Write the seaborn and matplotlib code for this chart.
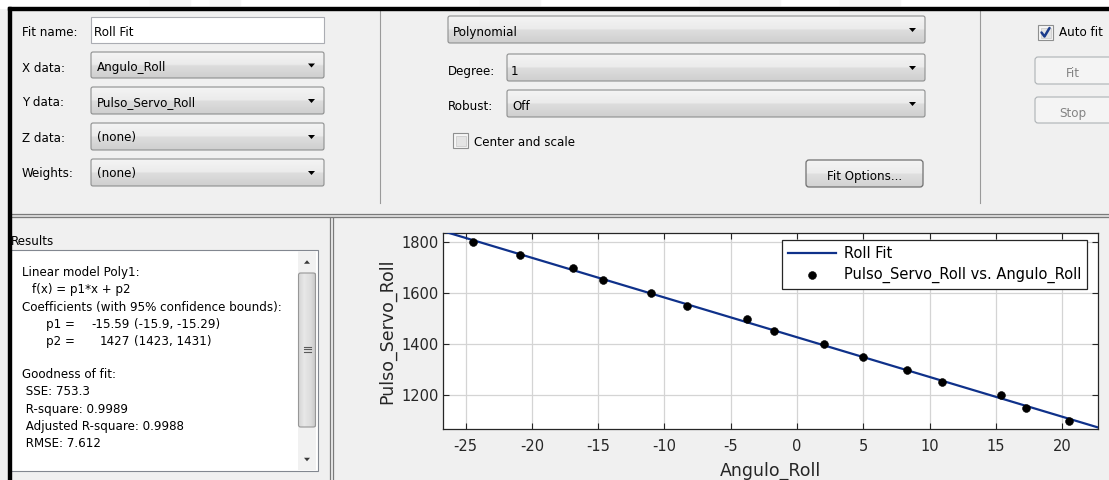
import numpy as np
import pandas as pd
import matplotlib
matplotlib.use("Agg")
import matplotlib.pyplot as plt
from matplotlib.patches import Rectangle, FancyBboxPatch, Polygon
from matplotlib.colors import LinearSegmentedColormap
import seaborn as sns

# ---- data -------------------------------------------------------------
angulo_roll = [-24.4, -20.9, -16.9, -14.6, -11.0, -8.3, -3.8, -1.7,
               2.0, 5.0, 8.3, 10.9, 15.4, 17.3, 20.5]
pulso_servo_roll = [1800, 1750, 1700, 1650, 1600, 1550, 1500, 1450,
                    1400, 1350, 1300, 1250, 1200, 1150, 1100]

# fitted poly1 coefficients (as reported in the results box)
p1 = -15.59
p2 = 1427

x_limits = (-26.7, 22.7)
y_limits = (1067, 1836)
x_ticks = [-25, -20, -15, -10, -5, 0, 5, 10, 15, 20]
y_ticks = [1200, 1400, 1600, 1800]

results_lines = [
    ("Linear model Poly1:", 22),
    ("f(x) = p1*x + p2", 32),
    ("Coefficients (with 95% confidence bounds):", 22),
]
goodness_lines = ["Goodness of fit:", " SSE: 753.3", " R-square: 0.9989",
                  " Adjusted R-square: 0.9988", " RMSE: 7.612"]

# ---- figure -------------------------------------------------------------
W, H = 1109, 480
fig = plt.figure(figsize=(W / 100, H / 100), dpi=100)
plt.rcParams["font.family"] = ["DejaVu Sans"]

UI = 8.6  # UI font size (pt)

bg = fig.add_axes([0, 0, 1, 1], zorder=0)
bg.axis("off")

PANEL = "#f0f0f0"
bg.add_patch(Rectangle((0, 0), W, H, color=PANEL, zorder=0))
bg.add_patch(Rectangle((0, 0), W, 7.5, color="white", zorder=0.5))
# faint header shapes above the window frame
for (hx, hw) in [(150, 40), (210, 30), (480, 60), (700, 80), (840, 60)]:
    bg.add_patch(Rectangle((hx, 0), hw, 5, color="#f6f6f6", zorder=0.6))

# window frame
bg.add_patch(Rectangle((7.5, 7), W, 2.6, color="black", zorder=5))
bg.add_patch(Rectangle((7.8, 7), 2.8, H, color="black", zorder=5))

# separators in the top panel
bg.plot([379.5, 379.5], [11, 203], color="#9a9a9a", lw=0.8, zorder=1)
bg.plot([979.5, 979.5], [11, 203], color="#9a9a9a", lw=0.8, zorder=1)
# splitter between top and bottom
for yy, c in [(214.2, "#7a7a7a"), (217.3, "#7a7a7a")]:
    bg.plot([10, W], [yy, yy], color=c, lw=0.9, zorder=1)
bg.add_patch(Rectangle((10, 214.5), W, 2.5, color="#e2e2e2", zorder=0.9))
# splitter between results and plot
for xx in [330.3, 333.3]:
    bg.plot([xx, xx], [217.5, H], color="#7a7a7a", lw=0.9, zorder=1)

combo_cmap = LinearSegmentedColormap.from_list(
    "combo", [(0, "#f4f4f4"), (0.48, "#ebebeb"), (0.52, "#dddddd"), (1, "#cfcfcf")])
button_cmap = LinearSegmentedColormap.from_list(
    "button", [(0, "#f4f4f4"), (0.48, "#ececec"), (0.52, "#dfdfdf"), (1, "#d2d2d2")])
thumb_cmap = LinearSegmentedColormap.from_list(
    "thumb", [(0, "#d6d6d6"), (0.3, "#e8e8e8"), (0.7, "#dcdcdc"), (1, "#c6c6c6")])
grad = np.linspace(0, 1, 64).reshape(-1, 1)


def gradient_box(x0, y0, x1, y1, cmap, ec, lw=0.8, r=2, z=2, horizontal=False):
    g = grad.T if horizontal else grad
    bg.imshow(g, cmap=cmap, extent=(x0, x1, y1, y0), aspect="auto",
              origin="upper", interpolation="bilinear", zorder=z)
    bg.add_patch(FancyBboxPatch((x0, y0), x1 - x0, y1 - y0,
                                boxstyle=f"round,pad=0,rounding_size={r}",
                                fill=False, ec=ec, lw=lw, zorder=z + 0.5))


def arrow_down(cx, cy, w=7, h=4, color="black", z=4):
    bg.add_patch(Polygon([(cx - w / 2, cy - h / 2), (cx + w / 2, cy - h / 2),
                          (cx, cy + h / 2)], closed=True, color=color, lw=0, zorder=z))


def arrow_up(cx, cy, w=7, h=4, color="black", z=4):
    bg.add_patch(Polygon([(cx - w / 2, cy + h / 2), (cx + w / 2, cy + h / 2),
                          (cx, cy - h / 2)], closed=True, color=color, lw=0, zorder=z))


def combo(x0, y0, x1, y1, text, tx, base):
    gradient_box(x0, y0, x1, y1, combo_cmap, "#8e8f8f")
    arrow_down(x1 - 12.5, (y0 + y1) / 2 + 0.5)
    bg.text(tx, base, text, fontsize=UI, va="baseline", ha="left", zorder=4)


def label(x, base, text, **kw):
    kw.setdefault("fontsize", UI)
    kw.setdefault("color", "black")
    bg.text(x, base, text, va="baseline", ha=kw.pop("ha", "left"), zorder=4, **kw)


def checkbox(x0, y0, size, checked=False):
    bg.add_patch(Rectangle((x0, y0), size, size, fc="#f6f6f6", ec="#8e8f8f", lw=0.8, zorder=3))
    bg.add_patch(Rectangle((x0 + 2.5, y0 + 2.5), size - 5, size - 5, fc="#e4e4e4",
                           ec="#c8c8c8", lw=0.5, zorder=3.2))
    if checked:
        bg.plot([x0 + 3.5, x0 + 6.5, x0 + 11.5], [y0 + 7.5, y0 + 11.5, y0 + 3],
                color="#1c3c8c", lw=1.8, solid_capstyle="round", zorder=4)


# ---- left part of the top panel -----------------------------------------
label(22, 36.5, "Fit name:")
bg.add_patch(Rectangle((91, 17), 233, 26, fc="white", ec="#abadb3", lw=0.8, zorder=2))
label(94.5, 36.5, "Roll Fit")

label(22, 71.5, "X data:")
combo(91, 52, 324, 78, "Angulo_Roll", 97, 71.5)
label(22, 106.5, "Y data:")
combo(91, 87, 324, 114, "Pulso_Servo_Roll", 97, 106.5)
label(22, 141.5, "Z data:")
combo(91, 123, 324, 150, "(none)", 97, 141.5)
label(22, 177, "Weights:")
combo(91, 159, 324, 186, "(none)", 97, 177)

# ---- middle part ----------------------------------------------------------
combo(448, 16, 925, 43, "Polynomial", 453, 36)
label(448, 75, "Degree:")
combo(507, 54, 925, 81, "1", 511, 75)
label(448, 110, "Robust:")
combo(507, 90, 925, 117, "Off", 512, 110)
checkbox(453, 133, 15)
label(474, 146.5, "Center and scale")
gradient_box(806, 160, 923, 187, button_cmap, "#707070", lw=0.9, r=3)
label(864.5, 180, "Fit Options...", ha="center")

# ---- right part -----------------------------------------------------------
checkbox(1038, 25, 15, checked=True)
label(1059, 36.5, "Auto fit")
for (y0, y1, txt, base) in [(57, 84, "Fit", 77), (97, 123, "Stop", 116.5)]:
    bg.add_patch(FancyBboxPatch((1035, y0), 90, y1 - y0,
                                boxstyle="round,pad=0,rounding_size=3",
                                fc="#f4f4f4", ec="#adb2b5", lw=0.8, zorder=2))
    label(1073, base, txt, ha="center", color="#838383")

# ---- results panel --------------------------------------------------------
label(10.5, 245, "Results")
bg.add_patch(Rectangle((10, 250), 308.3, 221, fc="white", ec="#828790", lw=0.8, zorder=2))
# scrollbar
bg.add_patch(Rectangle((298, 251), 18, 219, fc="#f1f1f1", ec="none", zorder=2.2))
gradient_box(298.5, 273, 315.5, 427, thumb_cmap, "#979797", lw=0.8, r=2, z=2.4,
             horizontal=True)
for gy in [346.5, 349, 351.5]:
    bg.plot([303.5, 310.5], [gy, gy], color="#5a5a5a", lw=0.8, zorder=3)
arrow_up(307, 262, w=6, h=3.5, color="#3a3a3a")
arrow_down(307, 459.5, w=6, h=3.5, color="#3a3a3a")

bases = [275.7, 293.2, 310.7]
for (txt, x), b in zip(results_lines, bases):
    label(x, b, txt)
label(46, 328, "p1 =")
label(130, 328, "-15.59", ha="right")
label(134.5, 328, "(-15.9, -15.29)")
label(46, 345.4, "p2 =")
label(130, 345.4, "1427", ha="right")
label(134.5, 345.4, "(1423, 1431)")
for i, txt in enumerate(goodness_lines):
    label(22, 377.7 + 17.4 * i, txt)

bg.set_xlim(0, W)
bg.set_ylim(H, 0)

# ---- plot -------------------------------------------------------------
left, right, top, bottom = 443, 1098, 233, 429
ax = fig.add_axes([left / W, (H - bottom) / H, (right - left) / W, (bottom - top) / H],
                  zorder=2)

df = pd.DataFrame({"Angulo_Roll": angulo_roll, "Pulso_Servo_Roll": pulso_servo_roll})
fit_x = np.linspace(*x_limits, 200)
fit_df = pd.DataFrame({"x": fit_x, "y": p1 * fit_x + p2})

sns.lineplot(data=fit_df, x="x", y="y", ax=ax, color="#0f318a", lw=1.6,
             label="Roll Fit", zorder=3)
sns.scatterplot(data=df, x="Angulo_Roll", y="Pulso_Servo_Roll", ax=ax, color="black",
                s=32, edgecolor="black", linewidth=0.4,
                label="Pulso_Servo_Roll vs. Angulo_Roll", zorder=4)

ax.set_facecolor("white")
ax.set_xlim(*x_limits)
ax.set_ylim(*y_limits)
ax.set_xticks(x_ticks)
ax.set_yticks(y_ticks)
ax.set_xticklabels([str(v) for v in x_ticks])
ax.grid(True, color="#d4d4d4", lw=0.9)
ax.set_axisbelow(True)
for sp in ax.spines.values():
    sp.set_color("#262626")
    sp.set_linewidth(0.9)
ax.tick_params(direction="in", length=4, width=0.8, top=True, right=True,
               labelsize=10.5, colors="#262626", pad=3)
ax.tick_params(axis="x", pad=7)

ax.set_xlabel("Angulo_Roll", fontsize=12.5, color="#262626")
ax.set_ylabel("Pulso_Servo_Roll", fontsize=12.5, color="#262626")
ax.xaxis.set_label_coords(0.5, -0.168)
ax.yaxis.set_label_coords(-0.072, 0.5)

leg = ax.legend(loc="upper right", bbox_to_anchor=((1087 - left) / (right - left),
                                                   (bottom - 240) / (bottom - top)),
                borderaxespad=0, fancybox=False, framealpha=1, edgecolor="#262626",
                fontsize=10.5, handlelength=3.3, handletextpad=0.55, labelspacing=0.4,
                borderpad=0.4)
leg.get_frame().set_linewidth(0.9)

fig.savefig("out.png", dpi=100)
